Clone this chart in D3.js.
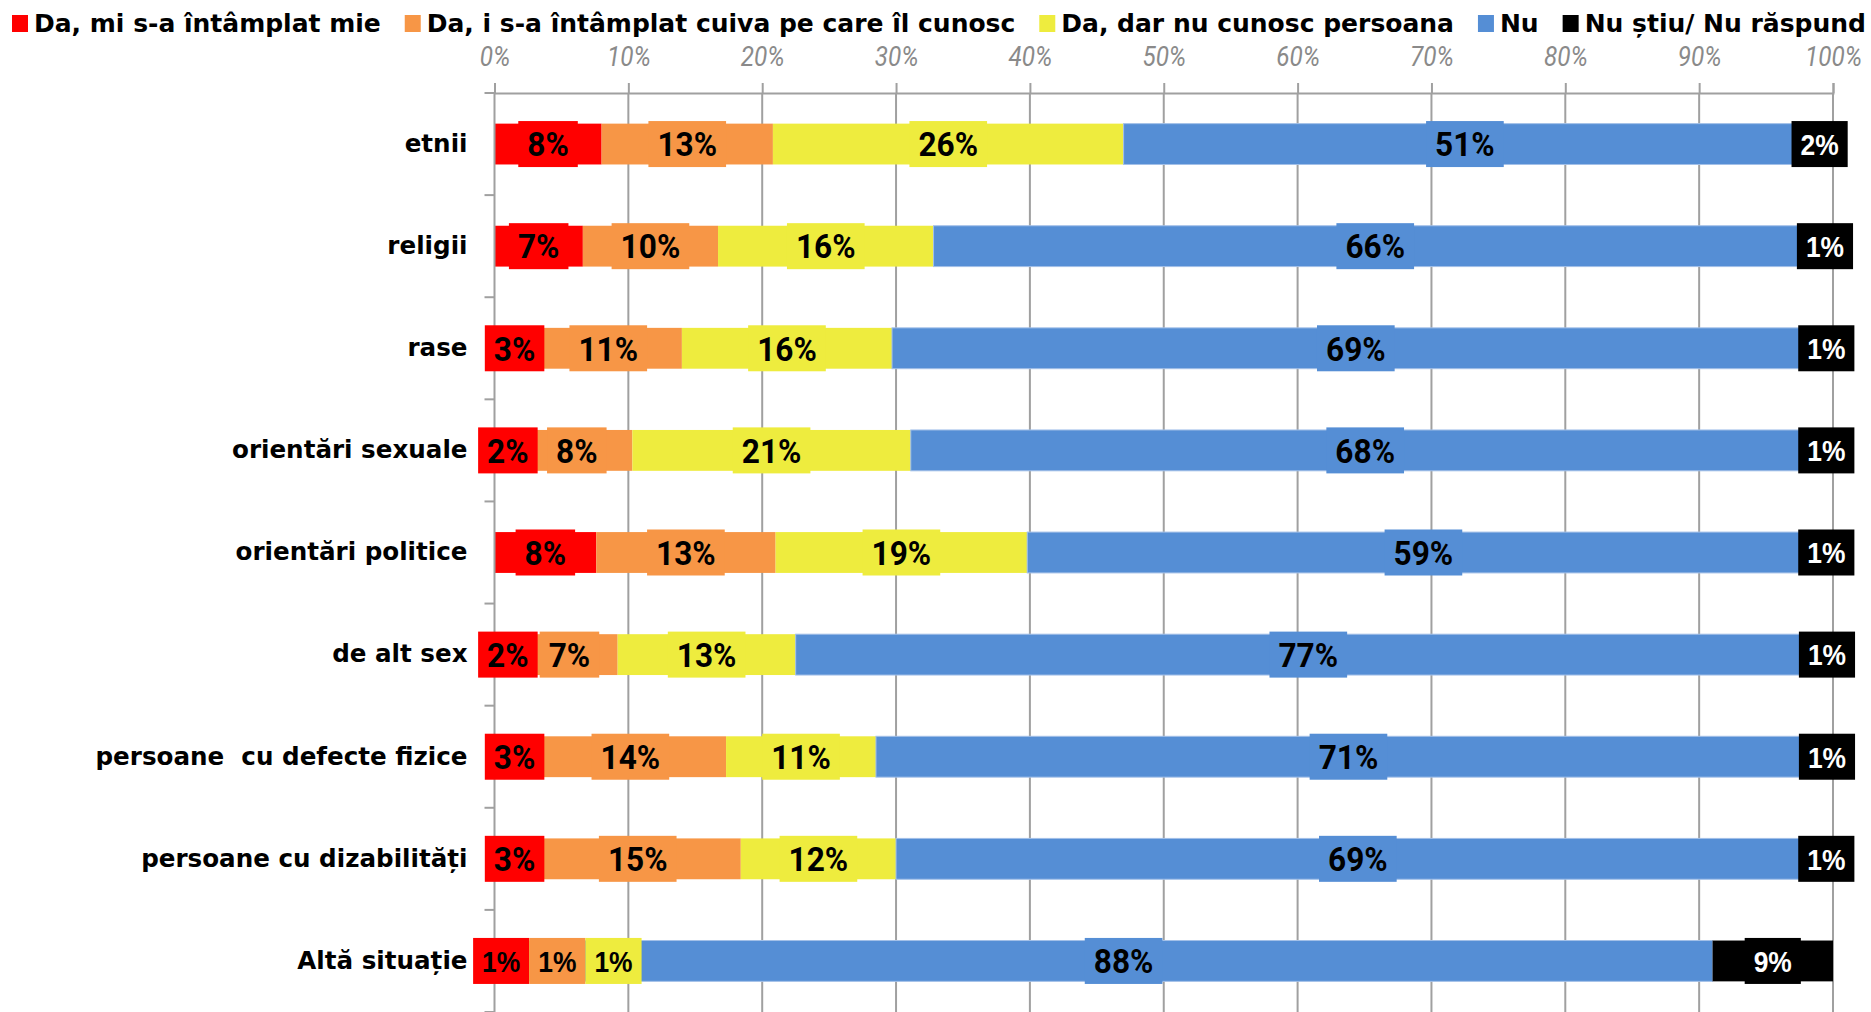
<!DOCTYPE html>
<html>
<head>
<meta charset="utf-8">
<script src="https://cdn.jsdelivr.net/npm/d3@7"></script>
<style>
  body { margin: 0; background: #fff; }
  svg { display: block; }
  .cat text { white-space: pre; }
</style>
</head>
<body>
<div id="chart"></div>
<script>
// categories (rows, top to bottom)
const categories = [
  'etnii',
  'religii',
  'rase',
  'orientări sexuale',
  'orientări politice',
  'de alt sex',
  'persoane  cu defecte fizice',
  'persoane cu dizabilități',
  'Altă situație'
];

const seriesNames = [
  'Da, mi s-a întâmplat mie',
  'Da, i s-a întâmplat cuiva pe care îl cunosc',
  'Da, dar nu cunosc persoana',
  'Nu',
  'Nu știu/ Nu răspund'
];

// percentages
const daMie = [8, 6.6, 3, 2, 7.6, 2, 3, 3, 1];
const daCunosc = [12.8, 10.1, 11, 8.3, 13.4, 7.2, 14.3, 15.4, 1];
const daNecunoscut = [26.2, 16.1, 15.7, 20.8, 18.8, 13.3, 11.2, 11.6, 1];
const nu = [51, 66, 69.3, 67.9, 59.2, 76.6, 70.6, 69, 88];
const nuStiu = [2, 1.2, 1, 1, 1, 0.9, 0.9, 1, 9];

const xTicks = [0, 10, 20, 30, 40, 50, 60, 70, 80, 90, 100];

const colors = ['#ff0000', '#f79646', '#eeec3e', '#558ed5', '#000000'];

const width = 1871;
const height = 1012;

const seriesValues = [daMie, daCunosc, daNecunoscut, nu, nuStiu];
const rows = categories.map((c, i) => {
  const row = { category: c };
  seriesNames.forEach((s, j) => (row[s] = seriesValues[j][i]));
  return row;
});

const stack = d3.stack().keys(seriesNames);
const layers = stack(rows);

const svg = d3
  .select('#chart')
  .append('svg')
  .attr('width', width)
  .attr('height', height);

const x = d3.scaleLinear().domain([0, 100]).range([494.5, 1833]);
const y = d3
  .scaleBand()
  .domain(categories)
  .range([93, 1012])
  .paddingInner(0.6)
  .paddingOuter(0.3);

const gridColor = '#a0a0a0';

// vertical gridlines
svg
  .append('g')
  .selectAll('line')
  .data(xTicks.slice(1))
  .join('line')
  .attr('x1', (d) => x(d))
  .attr('x2', (d) => x(d))
  .attr('y1', 93)
  .attr('y2', height)
  .attr('stroke', gridColor)
  .attr('stroke-width', 2);

// top axis with labels
const xAxis = svg
  .append('g')
  .attr('transform', 'translate(0,93)')
  .call(
    d3
      .axisTop(x)
      .tickValues(xTicks)
      .tickFormat((d) => d + '%')
      .tickSize(10)
      .tickPadding(17)
  );
xAxis.select('.domain').attr('stroke', gridColor).attr('stroke-width', 2);
xAxis.selectAll('.tick line').attr('stroke', gridColor).attr('stroke-width', 2);
xAxis
  .selectAll('.tick text')
  .attr('fill', '#8a8a8a')
  .style('font-family', 'Roboto, sans-serif')
  .style('font-style', 'italic')
  .style('font-size', '27px')
  .each(function () {
    const n = this.getComputedTextLength();
    d3.select(this).attr('textLength', n * 0.9).attr('lengthAdjust', 'spacingAndGlyphs');
  });

// bars
const layerG = svg
  .append('g')
  .selectAll('g')
  .data(layers)
  .join('g')
  .attr('fill', (d, i) => colors[i]);

layerG
  .selectAll('rect')
  .data((d) => d)
  .join('rect')
  .attr('x', (d) => x(d[0]))
  .attr('y', (d) => y(d.data.category))
  .attr('width', (d) => x(d[1]) - x(d[0]))
  .attr('height', y.bandwidth())
  .attr('stroke', function () {
    return d3.select(this.parentNode).datum().index === 3 ? '#a3c0e8' : 'none';
  })
  .attr('stroke-width', 1);

// left axis line + ticks between categories
const leftAxis = svg.append('g');
leftAxis
  .append('line')
  .attr('x1', x(0))
  .attr('x2', x(0))
  .attr('y1', 93)
  .attr('y2', height)
  .attr('stroke', gridColor)
  .attr('stroke-width', 2);
leftAxis
  .selectAll('.cut')
  .data(d3.range(0, categories.length + 1))
  .join('line')
  .attr('class', 'cut')
  .attr('x1', x(0) - 10)
  .attr('x2', x(0))
  .attr('y1', (k) => y.range()[0] + k * y.step())
  .attr('y2', (k) => y.range()[0] + k * y.step())
  .attr('stroke', gridColor)
  .attr('stroke-width', 2);

// category labels
const yAxis = svg
  .append('g')
  .attr('class', 'cat')
  .attr('transform', `translate(${x(0)},0)`)
  .call(d3.axisLeft(y).tickSize(0).tickPadding(27));
yAxis.select('.domain').remove();
yAxis
  .selectAll('.tick text')
  .attr('fill', '#000')
  .style('font-family', '"DejaVu Sans", sans-serif')
  .style('font-weight', 'bold')
  .style('font-size', '24.6px');

// data labels with filled boxes, pushed right when they would overlap
const labelG = svg.append('g');
const boxH = 46;
categories.forEach((cat, i) => {
  let prevRight = -Infinity;
  const cy = y(cat) + y.bandwidth() / 2;
  layers.forEach((layer, j) => {
    const d = layer[i];
    const v = d[1] - d[0];
    const g = labelG.append('g');
    const plain = j === 4 || v < 1.5;
    const t = g
      .append('text')
      .text(Math.round(v) + '%')
      .attr('text-anchor', 'middle')
      .attr('dy', '0.36em')
      .attr('fill', j === 4 ? '#fff' : '#000')
      .style('font-weight', 'bold')
      .style('font-family', plain ? '"Liberation Sans", Arial, sans-serif' : 'Roboto, sans-serif')
      .style('font-size', plain ? '30px' : '34px');
    const tw = t.node().getComputedTextLength() * (plain ? 0.88 : 0.93);
    t.attr('textLength', tw).attr('lengthAdjust', 'spacingAndGlyphs');
    const w = tw + 18;
    const center = (x(d[0]) + x(d[1])) / 2;
    let left = Math.max(center - w / 2, prevRight);
    if (left + w > width) left = width - w;
    prevRight = left + w;
    g.insert('rect', 'text')
      .attr('x', left)
      .attr('y', cy - boxH / 2)
      .attr('width', w)
      .attr('height', boxH)
      .attr('fill', colors[j]);
    t.attr('x', left + w / 2).attr('y', cy);
  });
});

// legend, spread across the top
const legend = svg.append('g').attr('transform', 'translate(0,32)');
const items = legend
  .selectAll('g')
  .data(seriesNames)
  .join('g');
items
  .append('rect')
  .attr('y', -17)
  .attr('width', 16)
  .attr('height', 17)
  .attr('fill', (d, i) => colors[i]);
items
  .append('text')
  .attr('x', 22)
  .text((d) => d)
  .attr('fill', '#000')
  .style('font-family', '"DejaVu Sans", sans-serif')
  .style('font-weight', 'bold')
  .style('font-size', '25px');

const itemW = [];
items.each(function () {
  itemW.push(22 + d3.select(this).select('text').node().getComputedTextLength());
});
const legStart = 12;
const legEnd = 1866;
const gap = (legEnd - legStart - d3.sum(itemW)) / (itemW.length - 1);
let pos = legStart;
items.attr('transform', (d, i) => {
  const tx = pos;
  pos += itemW[i] + gap;
  return `translate(${tx},0)`;
});
</script>
</body>
</html>
